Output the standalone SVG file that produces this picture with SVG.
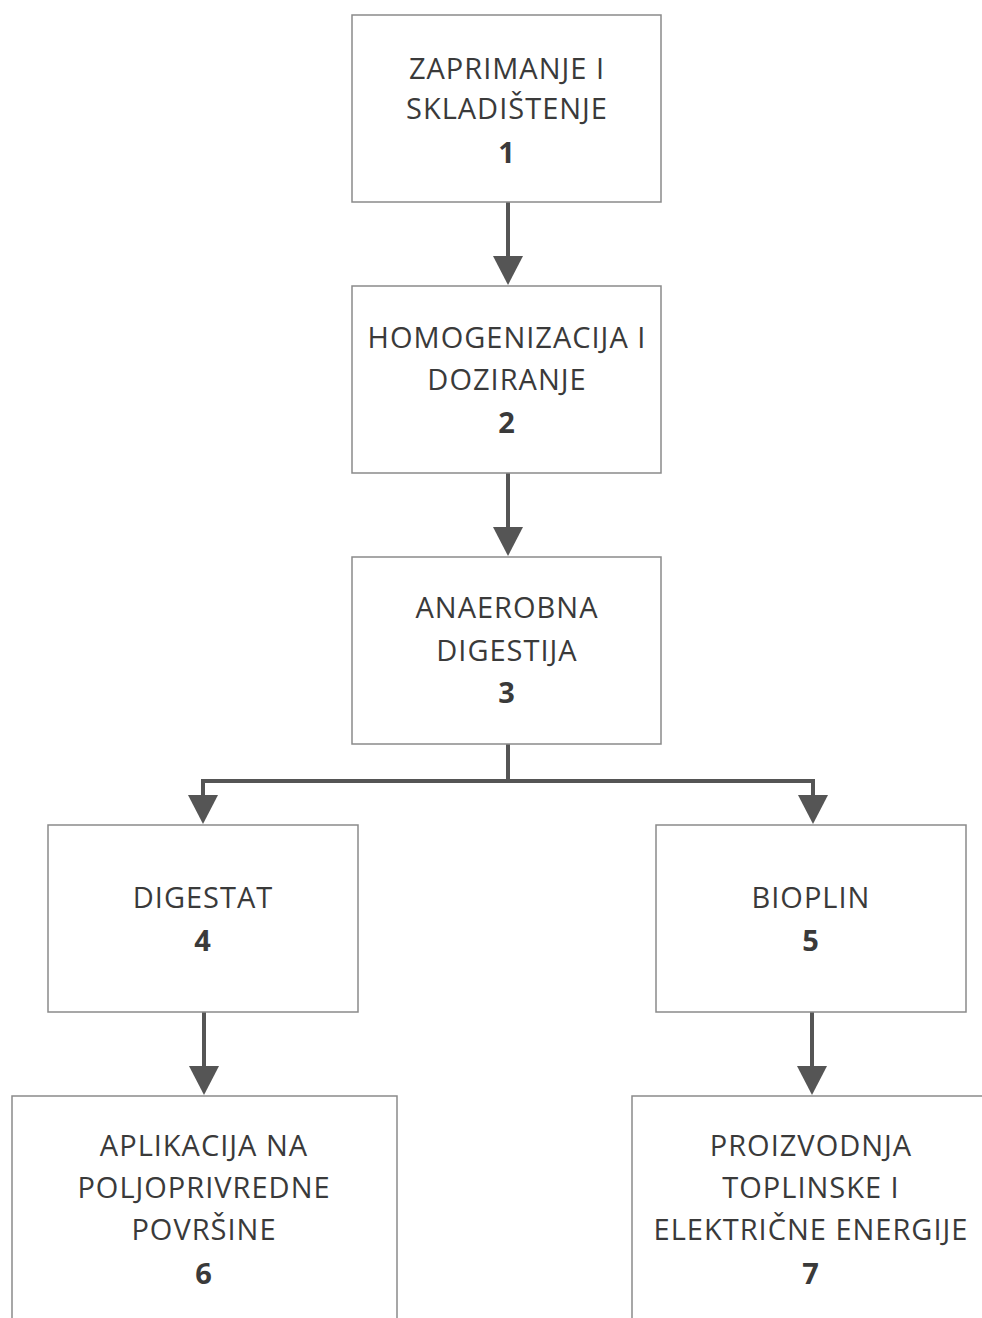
<svg xmlns="http://www.w3.org/2000/svg" width="982" height="1318" viewBox="0 0 982 1318">
<defs>
<style>
.box{fill:#fff;stroke:#8a8a8a;stroke-width:1.5}
.t{font-family:"Open Sans","Liberation Sans",sans-serif;font-size:29px;letter-spacing:1px;fill:#3a3a3a;text-anchor:middle}
.n{font-weight:bold}
.c{fill:none;stroke:#555;stroke-width:4}
.ah{fill:#555}
</style>
</defs>
<rect width="982" height="1318" fill="#fff"/>
<g id="connectors">
<line class="c" x1="508" y1="202" x2="508" y2="256"/><path class="ah" d="M493 256 L523 256 L508 285 Z"/>
<line class="c" x1="508" y1="473" x2="508" y2="527"/><path class="ah" d="M493 527 L523 527 L508 556 Z"/>
<polyline class="c" points="508,744 508,781"/>
<polyline class="c" points="203,797 203,781 813,781 813,797"/>
<path class="ah" d="M188 795 L218 795 L203 824 Z"/>
<path class="ah" d="M798 795 L828 795 L813 824 Z"/>
<line class="c" x1="204" y1="1012" x2="204" y2="1066"/><path class="ah" d="M189 1066 L219 1066 L204 1095 Z"/>
<line class="c" x1="812" y1="1012" x2="812" y2="1066"/><path class="ah" d="M797 1066 L827 1066 L812 1095 Z"/>
</g>
<g id="node1">
<rect class="box" x="352" y="15" width="309" height="187"/>
<text class="t" x="507" y="79">ZAPRIMANJE I</text>
<text class="t" x="507" y="119">SKLADIŠTENJE</text>
<text class="t n" x="507" y="163">1</text>
</g>
<g id="node2">
<rect class="box" x="352" y="286" width="309" height="187"/>
<text class="t" x="507" y="348">HOMOGENIZACIJA I</text>
<text class="t" x="507" y="390">DOZIRANJE</text>
<text class="t n" x="507" y="433">2</text>
</g>
<g id="node3">
<rect class="box" x="352" y="557" width="309" height="187"/>
<text class="t" x="507" y="618">ANAEROBNA</text>
<text class="t" x="507" y="661">DIGESTIJA</text>
<text class="t n" x="507" y="703">3</text>
</g>
<g id="node4">
<rect class="box" x="48" y="825" width="310" height="187"/>
<text class="t" x="203" y="908">DIGESTAT</text>
<text class="t n" x="203" y="951">4</text>
</g>
<g id="node5">
<rect class="box" x="656" y="825" width="310" height="187"/>
<text class="t" x="811" y="908">BIOPLIN</text>
<text class="t n" x="811" y="951">5</text>
</g>
<g id="node6">
<rect class="box" x="12" y="1096" width="385" height="240"/>
<text class="t" x="204" y="1156">APLIKACIJA NA</text>
<text class="t" x="204" y="1198">POLJOPRIVREDNE</text>
<text class="t" x="204" y="1240">POVRŠINE</text>
<text class="t n" x="204" y="1284">6</text>
</g>
<g id="node7">
<rect class="box" x="632" y="1096" width="380" height="240"/>
<text class="t" x="811" y="1156">PROIZVODNJA</text>
<text class="t" x="811" y="1198">TOPLINSKE I</text>
<text class="t" x="811" y="1240">ELEKTRIČNE ENERGIJE</text>
<text class="t n" x="811" y="1284">7</text>
</g>
</svg>
